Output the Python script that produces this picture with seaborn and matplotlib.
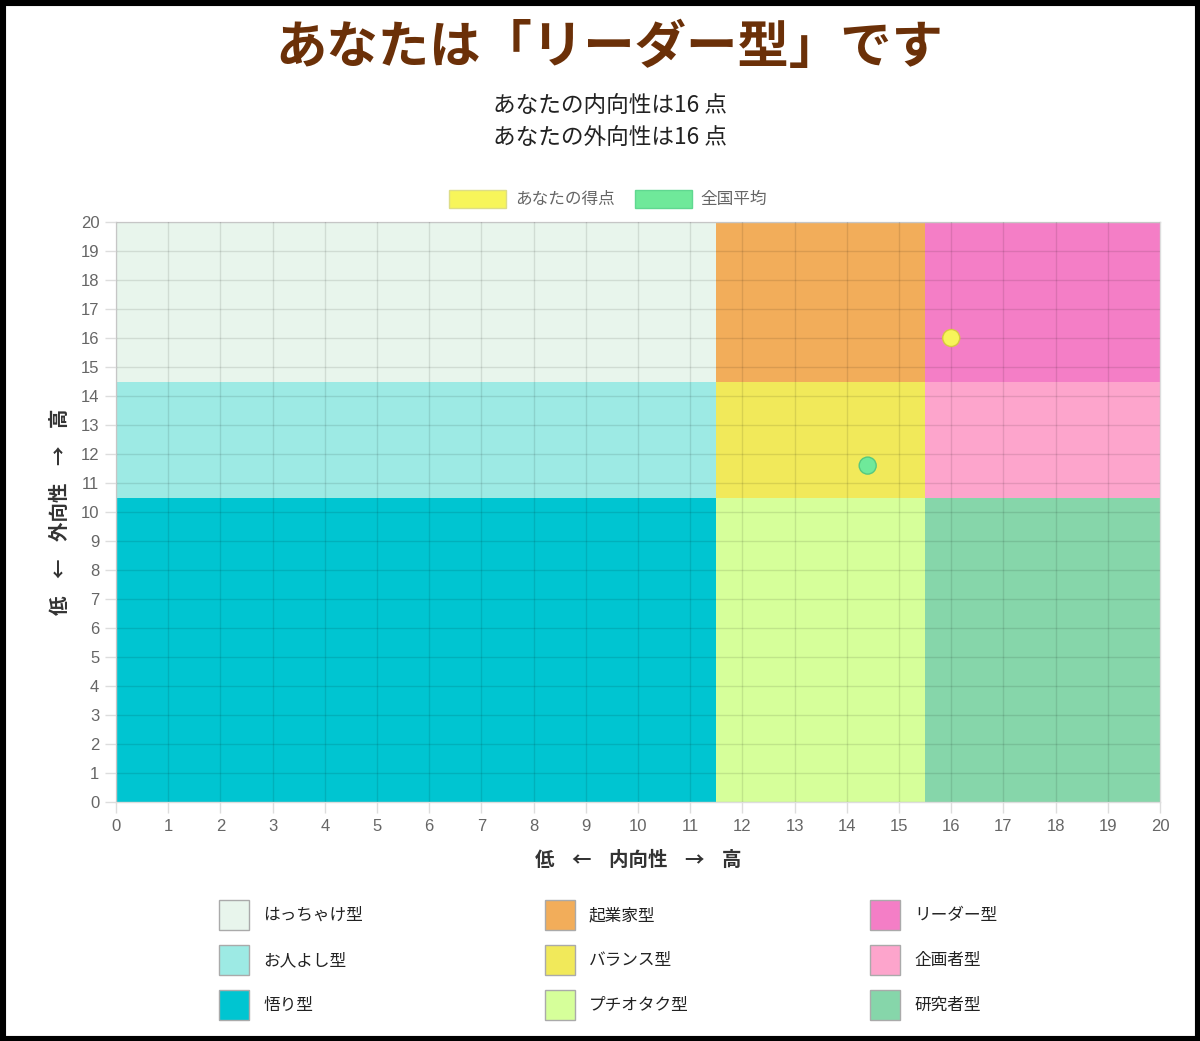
import numpy as np
import pandas as pd
import matplotlib
matplotlib.use("Agg")
import matplotlib.pyplot as plt
from matplotlib.patches import Rectangle, Patch
import seaborn as sns

sns.set_theme(style="white")
plt.rcParams['font.family'] = ['Noto Sans CJK JP', 'DejaVu Sans']

# region map data
region_names = ["はっちゃけ型", "お人よし型", "悟り型",
                "起業家型", "バランス型", "プチオタク型",
                "リーダー型", "企画者型", "研究者型"]
region_x0 = [0, 0, 0, 11.5, 11.5, 11.5, 15.5, 15.5, 15.5]
region_x1 = [11.5, 11.5, 11.5, 15.5, 15.5, 15.5, 20, 20, 20]
region_y0 = [14.5, 10.5, 0, 14.5, 10.5, 0, 14.5, 10.5, 0]
region_y1 = [20, 14.5, 10.5, 20, 14.5, 10.5, 20, 14.5, 10.5]
region_colors = ["#e8f5ec", "#9deae4", "#00c5d1",
                 "#f2ad5a", "#f1e95a", "#d6ff9a",
                 "#f47ec6", "#fda5cc", "#86d6aa"]

# points
point_labels = ["あなたの得点", "全国平均"]
point_x = [16, 14.4]
point_y = [16, 11.6]
point_colors = ["#f7f55a", "#6fe99a"]

title = "あなたは「リーダー型」です"
subtitle = ["あなたの内向性は16 点", "あなたの外向性は16 点"]

fig = plt.figure(figsize=(12, 10.41), dpi=100)
ax = fig.add_axes([116/1200, 1-802/1041, 1044/1200, 580/1041])

for x0, x1, y0, y1, c in zip(region_x0, region_x1, region_y0, region_y1, region_colors):
    ax.add_patch(Rectangle((x0, y0), x1-x0, y1-y0, facecolor=c, edgecolor="none", zorder=0))

pts = pd.DataFrame({"x": point_x, "y": point_y, "label": point_labels})
sns.scatterplot(data=pts, x="x", y="y", hue="label", palette=point_colors,
                s=150, edgecolor=["#d8c840", "#55c880"], linewidth=1,
                legend=False, ax=ax, zorder=5)

ax.set_xlim(0, 20)
ax.set_ylim(0, 20)
ax.set_xticks(range(0, 21))
ax.set_yticks(range(0, 21))
ax.grid(True, color="#000000", alpha=0.1, linewidth=1)
ax.set_axisbelow(False)
ax.tick_params(axis="both", colors="#dddddd", labelcolor="#666666",
               labelsize=12, length=8, width=1, pad=4, left=True, bottom=True)
for lab in ax.get_xticklabels() + ax.get_yticklabels():
    lab.set_family(["Liberation Sans", "DejaVu Sans"])
for s in ax.spines.values():
    s.set_color("#dddddd")
    s.set_linewidth(1)

ax.set_xlabel("低    ←    内向性    →    高", fontsize=14, color="#333333",
              fontweight="bold", labelpad=12)
ax.set_ylabel("低    ←    外向性    →    高", fontsize=14, color="#333333",
              fontweight="bold", labelpad=8)

fig.text(0.508, 1-47/1041, title, ha="center", va="center",
         fontsize=37, fontweight="bold", color="#6b3008")
fig.text(0.508, 1-105/1041, subtitle[0], ha="center", va="center",
         fontsize=16.3, color="#222222")
fig.text(0.508, 1-138/1041, subtitle[1], ha="center", va="center",
         fontsize=16.3, color="#222222")

# top legend
top_handles = [Patch(facecolor=c, edgecolor="#dddd88" if i == 0 else "#60d890", linewidth=1)
               for i, c in enumerate(point_colors)]
leg1 = fig.legend(top_handles, point_labels, loc="center", bbox_to_anchor=(0.507, 1-199/1041),
                  ncol=2, frameon=False, fontsize=12, handlelength=3.4, handleheight=1.3,
                  columnspacing=1.2, handletextpad=0.55, labelcolor="#666666")

# bottom legend
bot_handles = [Patch(facecolor=c, edgecolor="#aaaaaa", linewidth=1) for c in region_colors]
leg2 = fig.legend(bot_handles, region_names, loc="center", bbox_to_anchor=(0.507, 1-960/1041),
                  ncol=3, frameon=False, fontsize=12, handlelength=1.8, handleheight=2.39,
                  columnspacing=10.9, handletextpad=0.85, labelspacing=0.9,
                  labelcolor="#222222")

# black frame around image
fig.patches.append(Rectangle((0, 0), 1, 1, transform=fig.transFigure, fill=False,
                             edgecolor="black", linewidth=8, zorder=10))

fig.savefig("out.png", dpi=100)
